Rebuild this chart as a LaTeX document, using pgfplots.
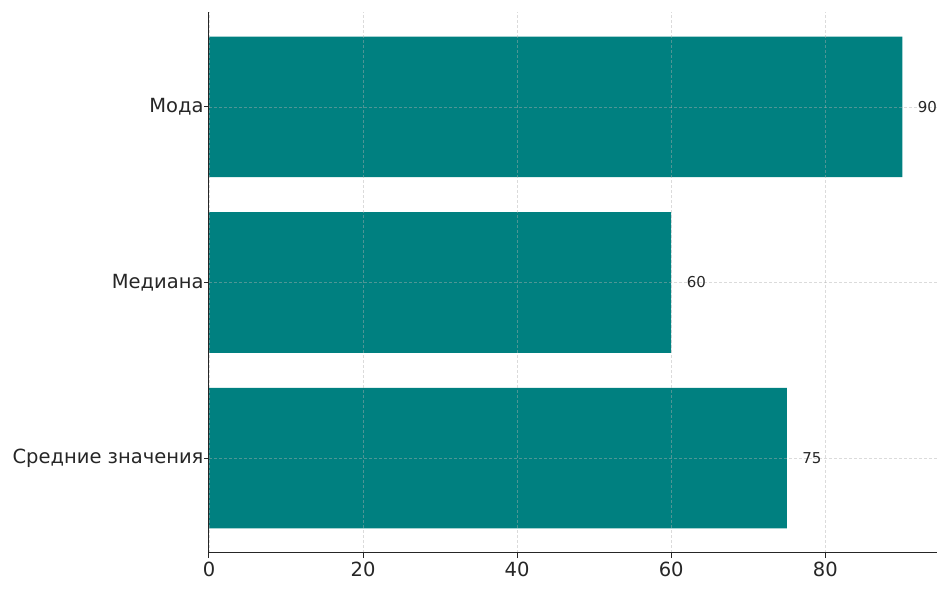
\documentclass[border=0pt]{standalone}
\usepackage{pgfplots}
\pgfplotsset{compat=1.18}
\usepackage{fontspec}
\setmainfont{DejaVu Sans}
\definecolor{barteal}{HTML}{008080}
\definecolor{gridgray}{HTML}{B0B0B0}
\definecolor{txt}{HTML}{262626}
\begin{document}
\begin{tikzpicture}
\begin{axis}[
    at={(0,0)}, anchor=south west,
    scale only axis,
    width=728pt, height=541pt,
    xbar,
    bar width=0.8,
    xmin=0, xmax=94.5,
    ymin=-0.54, ymax=2.54,
    axis x line*=bottom,
    axis y line*=left,
    axis line style={line width=1pt, color=txt, -},
    xtick align=outside,
    ytick align=outside,
    major tick style={line width=1pt, color=txt},
    major tick length=5pt,
    xtick={0,20,40,60,80},
    ytick={0,1,2},
    yticklabels={Средние значения, Медиана, Мода},
    ticklabel style={font=\fontsize{19.5}{22}\selectfont, text=txt},
    yticklabel style={xshift=3pt},
    /pgf/number format/assume math mode=true,
    grid=major,
    major grid style={dash pattern=on 3pt off 2pt, line width=0.6pt, color=gridgray, opacity=0.45},
    axis on top,
    nodes near coords,
    nodes near coords style={anchor=west, xshift=12pt, font=\fontsize{15}{17}\selectfont, text=txt},
    point meta=x,
]
\addplot[fill=barteal, draw=none] coordinates {(75,0) (60,1) (90,2)};
\end{axis}
\path (-209pt,-38pt) rectangle (741pt,553pt);
\end{tikzpicture}
\end{document}
